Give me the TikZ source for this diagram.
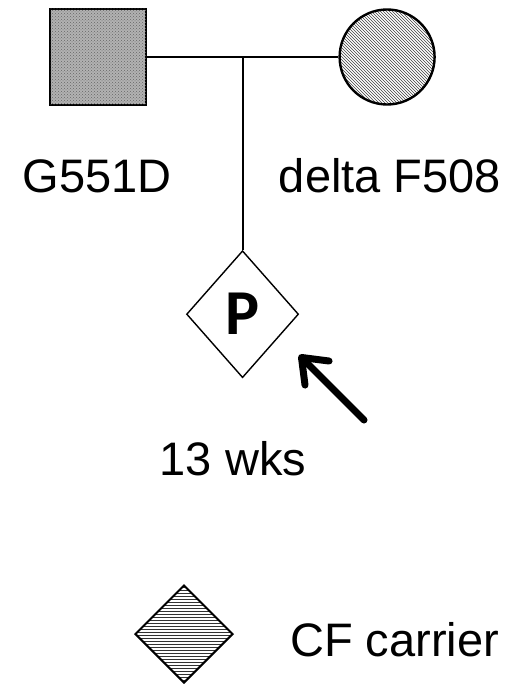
\documentclass[tikz,border=0pt]{standalone}
\usepackage{fontspec}
\setmainfont{Liberation Sans}
\newfontfamily\pfont{Carlito}
\usepackage{tikz}
\usetikzlibrary{arrows.meta}
\usetikzlibrary{positioning}
\usetikzlibrary{shapes.geometric}
\usetikzlibrary{patterns}
\usetikzlibrary{calc}

\begin{document}
\begin{tikzpicture}[x=1pt, y=-1pt, thin,
    quadrato/.style = {draw, line width=2.8pt, minimum size=96pt, inner sep=0pt, fill=black!30, postaction={pattern=crosshatch dots, pattern color=black!60}},
    cerchio/.style = {draw, circle, line width=2.4pt, minimum size=95pt, inner sep=0pt, pattern=north west lines, pattern color=black!75},
    feto/.style = {draw, diamond, line width=1.4pt, minimum width=112pt, minimum height=127pt, inner sep=0pt},
    portatore/.style = {draw, diamond, line width=2pt, minimum width=98pt, minimum height=98pt, inner sep=0pt, pattern=horizontal lines, pattern color=black!80},
    etichetta/.style = {font=\fontsize{47}{56}\selectfont, inner sep=0pt, anchor=base},
    linea/.style = {line width=2pt}]
    \useasboundingbox (0,0) rectangle (516,684);
    % genitori
    \node[quadrato] (padre) at (98,57) {};          % padre
    \node[cerchio, right=191pt of padre] (madre) {}; % madre
    \coordinate (unione) at ($(padre)!0.5!(madre)$); % punto di unione
    % figlio
    \node[feto, below=193pt of unione] (feto) {\pfont\bfseries\fontsize{64}{66}\selectfont P}; % feto
    \coordinate (coda) at (364,420);                 % coda della freccia
    \coordinate (punta) at (299,355);                % punta della freccia
    % legenda
    \node[portatore] (legenda) at (184,634) {};     % simbolo portatore
    % testi
    \node[etichetta] (g551d) at (97,193) {G551D};
    \node[etichetta] (delta) at (390,193) {delta F508};
    \node[etichetta] (settimane) at (233,475) {13 wks};
    \node[etichetta, anchor=base west] (cf) at (290,656) {CF carrier};
    % connessioni
    \draw[linea] (padre.east) -- (madre.west);
    \draw[linea] (unione) -- (feto.north);
    \draw[line width=7pt, line cap=round, line join=round, -{Straight Barb[length=22pt, width=34pt, round]}] (coda) -- (punta);
\end{tikzpicture}
\end{document}
